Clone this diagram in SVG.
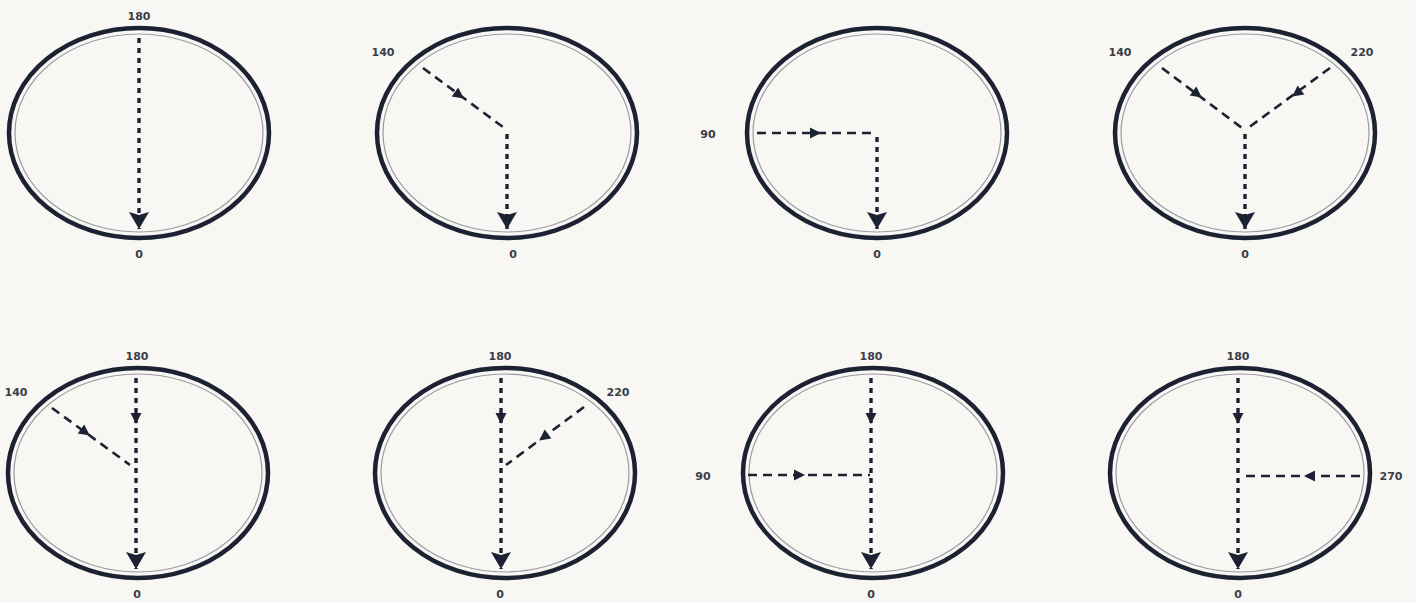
<svg xmlns="http://www.w3.org/2000/svg" xmlns:xlink="http://www.w3.org/1999/xlink" width="1416" height="603" viewBox="0 0 1416 603">
<style>
.outer{fill:none;stroke:#1d2233;stroke-width:4.5}
.inner{fill:none;stroke:#9a9ca3;stroke-width:1.2}
.v{fill:none;stroke:#1d2233;stroke-width:3.4;stroke-dasharray:5 5}
.d{fill:none;stroke:#1d2233;stroke-width:2.6;stroke-dasharray:9 6}
.lbl{font-family:"DejaVu Sans",sans-serif;font-size:11px;font-weight:bold;fill:#3a3d48;text-anchor:middle}
.ah{fill:#1d2233}
</style>
<defs>
<marker id="big" viewBox="0 0 18 20" refX="17" refY="10" markerWidth="18" markerHeight="20" markerUnits="userSpaceOnUse" orient="auto">
<path d="M0,0 L17,10 L0,20 L3,10 Z" class="ah"/>
</marker>
<path id="sm" d="M6,0 L-5,-5.5 L-5,5.5 Z" class="ah"/>
</defs>
<rect width="1416" height="603" fill="#f8f7f4"/>

<g id="panel1">
<ellipse class="outer" cx="139" cy="133" rx="130" ry="105"/>
<ellipse class="inner" cx="139" cy="133" rx="124" ry="99"/>
<text class="lbl" x="139" y="20">180</text>
<text class="lbl" x="139" y="258">0</text>
</g>
<g id="panel2">
<ellipse class="outer" cx="507" cy="133" rx="130" ry="105"/>
<ellipse class="inner" cx="507" cy="133" rx="124" ry="99"/>
<text class="lbl" x="383" y="56">140</text>
<text class="lbl" x="513" y="258">0</text>
</g>
<g id="panel3">
<ellipse class="outer" cx="877" cy="133" rx="130" ry="105"/>
<ellipse class="inner" cx="877" cy="133" rx="124" ry="99"/>
<text class="lbl" x="708" y="138">90</text>
<text class="lbl" x="877" y="258">0</text>
</g>
<g id="panel4">
<ellipse class="outer" cx="1245" cy="133" rx="130" ry="105"/>
<ellipse class="inner" cx="1245" cy="133" rx="124" ry="99"/>
<text class="lbl" x="1120" y="56">140</text>
<text class="lbl" x="1362" y="56">220</text>
<text class="lbl" x="1245" y="258">0</text>
</g>
<g id="panel5">
<ellipse class="outer" cx="138" cy="473" rx="130" ry="105"/>
<ellipse class="inner" cx="138" cy="473" rx="124" ry="99"/>
<text class="lbl" x="137" y="360">180</text>
<text class="lbl" x="16" y="396">140</text>
<text class="lbl" x="137" y="598">0</text>
</g>
<g id="panel6">
<ellipse class="outer" cx="505" cy="473" rx="130" ry="105"/>
<ellipse class="inner" cx="505" cy="473" rx="124" ry="99"/>
<text class="lbl" x="500" y="360">180</text>
<text class="lbl" x="618" y="396">220</text>
<text class="lbl" x="500" y="598">0</text>
</g>
<g id="panel7">
<ellipse class="outer" cx="873" cy="473" rx="130" ry="105"/>
<ellipse class="inner" cx="873" cy="473" rx="124" ry="99"/>
<text class="lbl" x="871" y="360">180</text>
<text class="lbl" x="703" y="480">90</text>
<text class="lbl" x="871" y="598">0</text>
</g>
<g id="panel8">
<ellipse class="outer" cx="1240" cy="473" rx="130" ry="105"/>
<ellipse class="inner" cx="1240" cy="473" rx="124" ry="99"/>
<text class="lbl" x="1238" y="360">180</text>
<text class="lbl" x="1391" y="480">270</text>
<text class="lbl" x="1238" y="598">0</text>
</g>

<g id="connectors">
<!-- panel 1 -->
<path class="v" d="M139,38 V229" marker-end="url(#big)"/>
<!-- panel 2 -->
<path class="d" d="M423,68 L507,130"/>
<use xlink:href="#sm" transform="translate(459,95) rotate(36)"/>
<path class="v" d="M507,134 V229" marker-end="url(#big)"/>
<!-- panel 3 -->
<path class="d" d="M757,133 H877"/>
<use xlink:href="#sm" transform="translate(815,133)"/>
<path class="v" d="M877,137 V229" marker-end="url(#big)"/>
<!-- panel 4 -->
<path class="d" d="M1162,68 L1242,128"/>
<use xlink:href="#sm" transform="translate(1197,94) rotate(37)"/>
<path class="d" d="M1330,68 L1248,128"/>
<use xlink:href="#sm" transform="translate(1297,93) rotate(143)"/>
<path class="v" d="M1245,134 V229" marker-end="url(#big)"/>
<!-- panel 5 -->
<path class="d" d="M52,408 L130,465"/>
<use xlink:href="#sm" transform="translate(85,432) rotate(36)"/>
<path class="v" d="M136,378 V569" marker-end="url(#big)"/>
<use xlink:href="#sm" transform="translate(136,418) rotate(90)"/>
<!-- panel 6 -->
<path class="d" d="M584,407 L506,465"/>
<use xlink:href="#sm" transform="translate(544,437) rotate(143)"/>
<path class="v" d="M501,378 V569" marker-end="url(#big)"/>
<use xlink:href="#sm" transform="translate(501,418) rotate(90)"/>
<!-- panel 7 -->
<path class="d" d="M748,475 H870"/>
<use xlink:href="#sm" transform="translate(799,475)"/>
<path class="v" d="M871,378 V569" marker-end="url(#big)"/>
<use xlink:href="#sm" transform="translate(871,418) rotate(90)"/>
<!-- panel 8 -->
<path class="d" d="M1360,476 H1241"/>
<use xlink:href="#sm" transform="translate(1310,476) rotate(180)"/>
<path class="v" d="M1238,378 V569" marker-end="url(#big)"/>
<use xlink:href="#sm" transform="translate(1238,418) rotate(90)"/>
</g>
</svg>
